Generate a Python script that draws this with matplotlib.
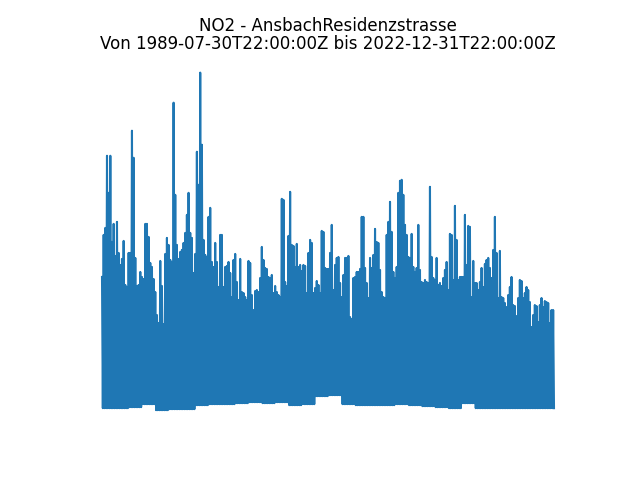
import numpy as np
import pandas as pd
import matplotlib
matplotlib.use("Agg")
import matplotlib.pyplot as plt
import matplotlib.dates as mdates

station = "AnsbachResidenzstrasse"
start = "1989-07-30T22:00:00Z"
end = "2022-12-31T22:00:00Z"

# upper envelope of the NO2 series (arbitrary units)
highs_1 = [131, 173, 180, 252, 215, 252, 166, 184, 152, 186,
           155, 143, 149, 167, 123, 121, 155, 155, 277, 250,
           150, 122, 123, 136, 131, 129, 184, 184, 171, 145,
           141, 129, 116, 93, 85, 147, 122, 84, 154, 170,
           163, 148, 146, 305, 213, 163, 149, 156, 158, 165,
           175, 193, 215, 175, 170, 135, 154, 256, 223, 335,
           263, 168, 153, 151, 191]
highs_2 = [200, 146, 141, 165, 146, 121, 173, 173, 121, 141,
           142, 146, 135, 111, 148, 154, 126, 108, 149, 116,
           115, 111, 108, 147, 145, 113, 98, 117, 118, 116,
           130, 161, 148, 140, 139, 131, 130, 133, 115, 122,
           116, 113, 111, 209, 208, 126, 122, 172, 216, 163,
           162, 141, 164, 141, 143, 137, 143, 142, 115, 155,
           168, 165, 115, 120, 127, 123, 115, 177, 176]
highs_3 = [140, 139, 139, 155, 183, 118, 143, 150, 151, 125,
           111, 133, 150, 150, 152, 91, 89, 130, 131, 136,
           136, 139, 191, 191, 140, 125, 110, 150, 140, 153,
           179, 166, 165, 138, 116, 111, 110, 173, 186, 206,
           176, 136, 130, 141, 215, 227, 228, 213, 183, 173,
           151, 150, 174, 141, 136, 140, 183, 138, 126, 125,
           128, 126, 125, 221, 151, 130, 128, 150, 123]
highs_4 = [125, 122, 130, 138, 146, 118, 174, 173, 128, 202,
           168, 128, 131, 131, 131, 193, 143, 182, 181, 111,
           147, 125, 125, 118, 126, 140, 121, 144, 148, 150,
           140, 130, 158, 191, 155, 110, 157, 111, 110, 105,
           101, 113, 121, 131, 103, 102, 92, 110, 128, 127,
           110, 115, 121, 118, 106, 81, 93, 103, 102, 86,
           103, 110, 101, 107, 106, 105, 85, 98, 98]

# lower envelope, one value per group of 8 samples
lows = [0, 0, 1, 4, -2, -1, -1, 3, 4, 4, 5, 6, 5, 6, 3, 4, 12, 13,
        4, 3, 3, 3, 4, 3, 2, 1, 0, 5, 0, 0, 0, 0, 0, 0]

highs = np.array(highs_1 + highs_2 + highs_3 + highs_4, dtype=float)
n = len(highs)
times = pd.date_range(pd.Timestamp(start).tz_localize(None),
                      pd.Timestamp(end).tz_localize(None), periods=2 * n)

vals = np.empty(2 * n)
vals[0::2] = highs
vals[1::2] = [lows[i // 8] for i in range(n)]

fig, ax = plt.subplots(figsize=(6.4, 4.8), dpi=100)
ax.plot(times, vals, color="#1f77b4", linewidth=1.5)

t0 = mdates.date2num(times[0])
t1 = mdates.date2num(times[-1])
S = t1 - t0
ax.set_xlim(t0 - S * 22 / 452, t1 + S * 22 / 452)
ax.set_ylim(-19, 350)
ax.axis("off")
ax.set_title(f"NO2 - {station}\nVon {start} bis {end}", fontsize=12,
             linespacing=1.0)

fig.savefig("out.png", dpi=100)
